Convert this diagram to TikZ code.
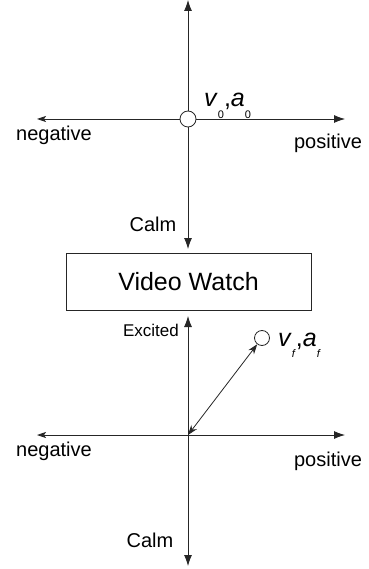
\documentclass[tikz,border=0pt]{standalone}
\usepackage{fontspec}
\setmainfont{Liberation Sans}
\usetikzlibrary{arrows.meta}
\tikzset{
  axis/.style={draw=black!85, line width=0.8pt},
  lbl/.style={inner sep=0pt, font=\fontsize{20}{20}\selectfont},
  dot/.style={circle, draw=black!85, fill=white, line width=0.8pt, minimum size=16pt, inner sep=0pt},
  tipA/.style={-{Latex[length=11pt,width=8pt]}},
  tipL/.style={-{Stealth[length=9pt,width=6pt,inset=2pt]}},
}
\newcommand{\sbx}[1]{\raisebox{-0.45em}{\fontsize{11}{11}\selectfont #1}}
\begin{document}
\begin{tikzpicture}[x=1pt,y=-1pt]
\useasboundingbox (0,0) rectangle (368,569);
% top diagram
\coordinate (o1) at (188,119);
\coordinate (t1) at (188,0);
\coordinate (b1) at (188,249);
\coordinate (l1) at (37,119);
\coordinate (r1) at (345,119);
\draw[axis,tipA] (o1) -- (t1);
\draw[axis,tipA] (o1) -- (b1);
\draw[axis,tipL] (o1) -- (l1);
\draw[axis,tipA] (o1) -- (r1);
\node[dot] (c1) at (o1) {};
\node[lbl] (neg1) at (54,135) {negative};
\node[lbl] (pos1) at (328,143) {positive};
\node[lbl] (calm1) at (153,224) {Calm};
\node[inner sep=0pt, anchor=base west, font=\fontsize{25}{25}\selectfont] (v0) at (204,107) {\textit{v}\sbx{0},\textit{a}\sbx{0}};
% box
\node[draw=black!85, line width=0.8pt, minimum width=245pt, minimum height=57pt, inner sep=0pt, font=\fontsize{25}{25}\selectfont] (box) at (188.5,281.5) {Video Watch};
% bottom diagram
\coordinate (o2) at (188,435);
\coordinate (t2) at (188,316);
\coordinate (b2) at (188,566);
\coordinate (l2) at (37,435);
\coordinate (r2) at (345,435);
\draw[axis,tipA] (o2) -- (t2);
\draw[axis,tipA] (o2) -- (b2);
\draw[axis,tipL] (o2) -- (l2);
\draw[axis,tipA] (o2) -- (r2);
\node[dot, minimum size=15pt] (c2) at (262,338) {};
\draw[axis,{Stealth[length=10pt,width=7pt]}-{Stealth[length=10pt,width=7pt]}] (o2) -- (c2);
\node[lbl, font=\fontsize{17}{17}\selectfont] (exc) at (151,330) {Excited};
\node[inner sep=0pt, anchor=base west, font=\fontsize{25}{25}\selectfont] (vf) at (278,346) {\textit{v}\sbx{\textit{f}},\textit{a}\sbx{\textit{f}}};
\node[lbl] (neg2) at (54,451) {negative};
\node[lbl] (pos2) at (328,461) {positive};
\node[lbl] (calm2) at (150,540) {Calm};
\end{tikzpicture}
\end{document}
